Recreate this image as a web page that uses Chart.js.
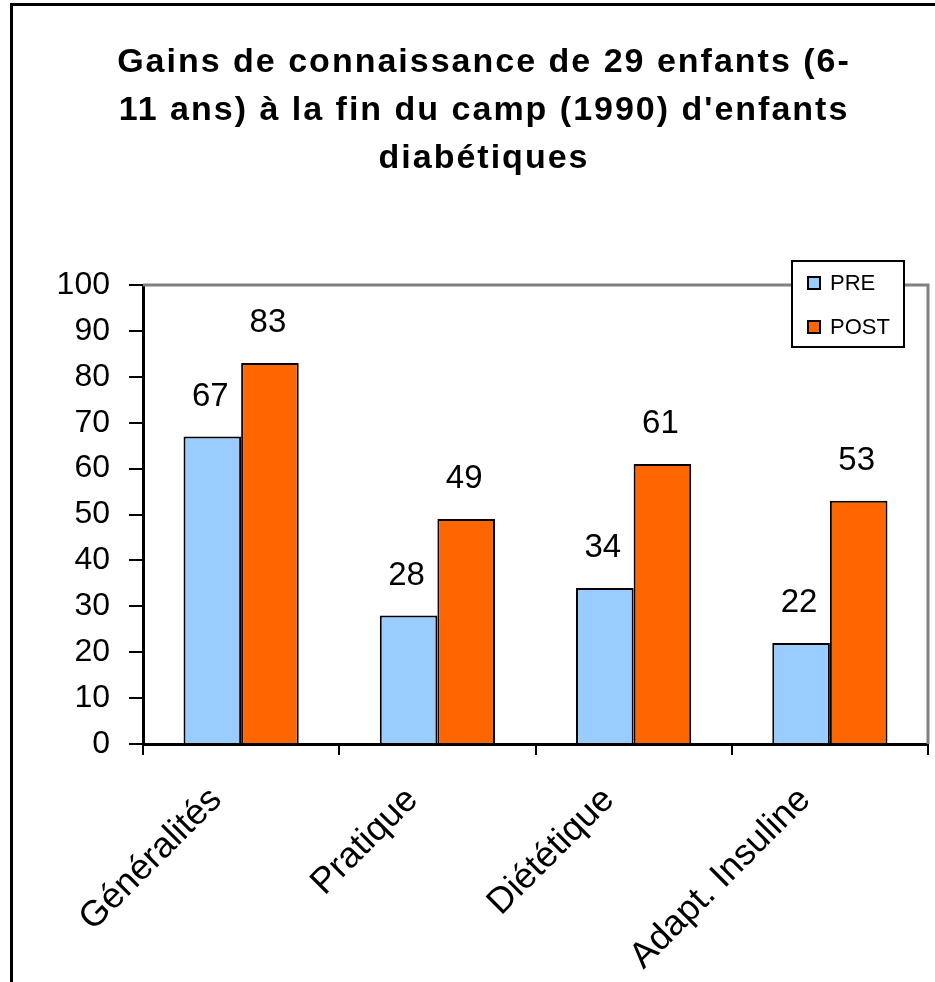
<!DOCTYPE html>
<html>
<head>
<meta charset="utf-8">
<title>Gains de connaissance</title>
<script src="https://cdn.jsdelivr.net/npm/chart.js@4.4.0/dist/chart.umd.min.js"></script>
<style>
  body { margin: 0; background: #fff; }
  #wrap { width: 935px; height: 982px; }
</style>
</head>
<body>
<div id="wrap"><canvas id="graphique" width="935" height="982"></canvas></div>
<script>
const titreLignes = [
    "Gains de connaissance de 29 enfants (6-",
    "11 ans) à la fin du camp (1990) d'enfants",
    "diabétiques"
];
const categories = ["Généralités", "Pratique", "Diététique", "Adapt. Insuline"];
const valeursPre = [67, 28, 34, 22];
const valeursPost = [83, 49, 61, 53];
const nomsSeries = ["PRE", "POST"];
const couleursSeries = ["#99CCFF", "#FF6600"];
const yMin = 0, yMax = 100, yPas = 10;

const police = "'Liberation Sans', Arial, sans-serif";

// cadre, titre, bordure grise de la zone de tracé
const fondPlugin = {
    id: 'fond',
    beforeDraw(chart) {
        const ctx = chart.ctx;
        ctx.save();
        ctx.fillStyle = '#fff';
        ctx.fillRect(0, 0, chart.width, chart.height);
        ctx.strokeStyle = '#000';
        ctx.lineWidth = 3;
        ctx.strokeRect(11.5, 4.5, 2000, 2000);

        ctx.fillStyle = '#000';
        ctx.font = "bold 34px " + police;
        ctx.letterSpacing = '2px';
        ctx.textAlign = 'center';
        ctx.textBaseline = 'middle';
        titreLignes.forEach((ligne, i) => {
            ctx.fillText(ligne, 484, 63 + i * 48);
        });
        ctx.restore();
    },
    beforeDatasetsDraw(chart) {
        const a = chart.chartArea;
        const ctx = chart.ctx;
        ctx.save();
        ctx.strokeStyle = '#808080';
        ctx.lineWidth = 3;
        ctx.beginPath();
        ctx.moveTo(a.left, a.top);
        ctx.lineTo(a.right, a.top);
        ctx.lineTo(a.right, a.bottom);
        ctx.stroke();
        ctx.restore();
    }
};

// étiquettes de valeurs + légende encadrée
const etiquettesPlugin = {
    id: 'etiquettes',
    afterDatasetsDraw(chart) {
        const ctx = chart.ctx;
        ctx.save();
        ctx.fillStyle = '#000';
        ctx.font = "33px " + police;
        ctx.textAlign = 'center';
        ctx.textBaseline = 'middle';
        chart.data.datasets.forEach((ds, i) => {
            chart.getDatasetMeta(i).data.forEach((barre, j) => {
                ctx.fillText(String(ds.data[j]), barre.x - 2, barre.y - 40);
            });
        });

        // légende
        const lx = 792, ly = 261, lw = 112, lh = 86;
        ctx.fillStyle = '#fff';
        ctx.fillRect(lx, ly, lw, lh);
        ctx.strokeStyle = '#000';
        ctx.lineWidth = 2;
        ctx.strokeRect(lx, ly, lw, lh);
        ctx.font = "22px " + police;
        ctx.textAlign = 'left';
        chart.data.datasets.forEach((ds, i) => {
            const cy = ly + 22 + i * 44;
            ctx.fillStyle = ds.backgroundColor;
            ctx.fillRect(lx + 16, cy - 6, 12, 12);
            ctx.strokeStyle = '#000';
            ctx.lineWidth = 2;
            ctx.strokeRect(lx + 16, cy - 6, 12, 12);
            ctx.fillStyle = '#000';
            ctx.fillText(ds.label, lx + 38, cy + 1);
        });
        ctx.restore();
    }
};

const ctx = document.getElementById('graphique').getContext('2d');
new Chart(ctx, {
    type: 'bar',
    data: {
        labels: categories,
        datasets: [
            {
                label: nomsSeries[0],
                data: valeursPre,
                backgroundColor: couleursSeries[0],
                borderColor: '#000',
                borderWidth: 2
            },
            {
                label: nomsSeries[1],
                data: valeursPost,
                backgroundColor: couleursSeries[1],
                borderColor: '#000',
                borderWidth: 2
            }
        ]
    },
    options: {
        responsive: false,
        animation: false,
        layout: { padding: { top: 285, right: 7, bottom: 0, left: 0 } },
        datasets: {
            bar: { categoryPercentage: 0.587, barPercentage: 1.0 }
        },
        scales: {
            x: {
                grid: {
                    offset: true,
                    drawOnChartArea: false,
                    drawTicks: true,
                    tickLength: 11,
                    color: '#000',
                    lineWidth: 2
                },
                border: { display: true, color: '#000', width: 3 },
                ticks: {
                    color: '#000',
                    font: { family: police, size: 36 },
                    minRotation: 45,
                    maxRotation: 45,
                    padding: 24,
                    labelOffset: -25
                },
                afterFit(scale) { scale.height = 238; }
            },
            y: {
                min: yMin,
                max: yMax,
                grid: {
                    drawOnChartArea: false,
                    drawTicks: true,
                    tickLength: 14,
                    color: '#000',
                    lineWidth: 2
                },
                border: { display: true, color: '#000', width: 3 },
                ticks: {
                    stepSize: yPas,
                    color: '#000',
                    font: { family: police, size: 32 },
                    padding: 19
                },
                afterFit(scale) { scale.width = 143; }
            }
        },
        plugins: {
            legend: { display: false },
            title: { display: false },
            tooltip: { enabled: false }
        }
    },
    plugins: [fondPlugin, etiquettesPlugin]
});
</script>
</body>
</html>
